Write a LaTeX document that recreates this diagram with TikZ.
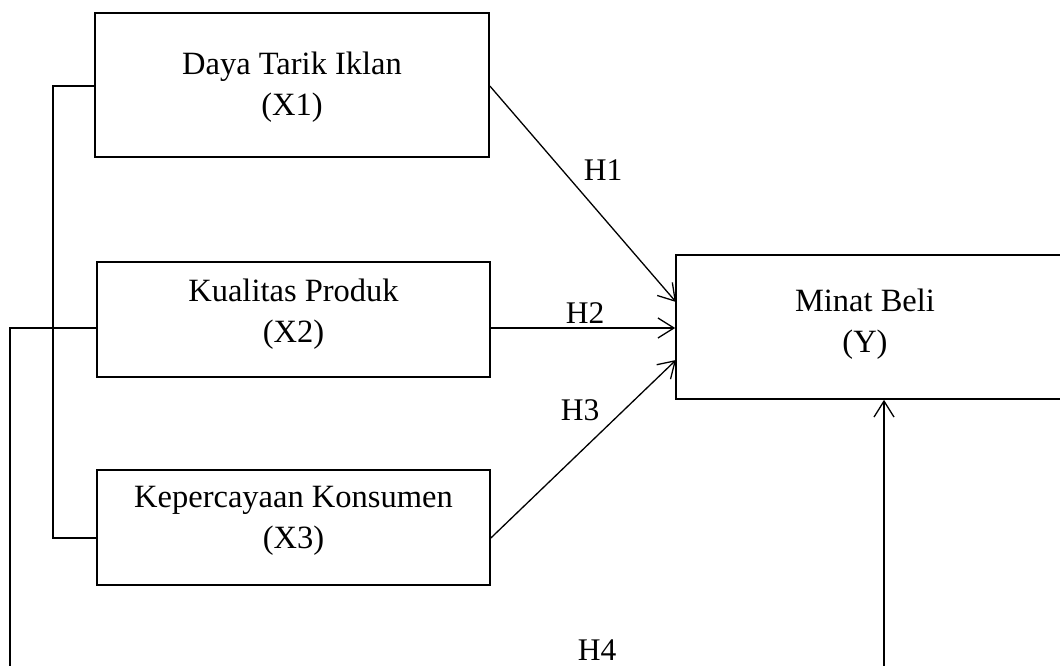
\documentclass[tikz,border=0pt]{standalone}
\usepackage{fontspec}
\setmainfont{Liberation Serif}
\usetikzlibrary{arrows.meta}
\tikzset{
  varbox/.style={draw, line width=1.7pt, rectangle, inner sep=0pt, align=center},
  txt/.style={inner sep=0pt, align=center, font=\fontsize{32.5}{41}\selectfont},
  conn/.style={line width=1.3pt},
  arr/.style={conn, -{Straight Barb[length=16pt,width=20pt,line width=1.3pt]}},
  hlab/.style={inner sep=0pt, font=\fontsize{31.5}{36}\selectfont}
}
\begin{document}
\begin{tikzpicture}[x=1pt,y=-1pt]
\useasboundingbox (0,0) rectangle (1060,666);
\node[varbox, minimum width=394pt, minimum height=144pt] (x1) at (292,85) {};
\node[txt] (x1t) at (292,87) {Daya Tarik Iklan\\(X1)};
\node[varbox, minimum width=393pt, minimum height=115pt] (x2) at (293.5,319.5) {};
\node[txt] (x2t) at (293.5,314) {Kualitas Produk\\(X2)};
\node[varbox, minimum width=393pt, minimum height=115pt] (x3) at (293.5,527.5) {};
\node[txt] (x3t) at (293.5,521) {Kepercayaan Konsumen\\(X3)};
\node[varbox, minimum width=400pt, minimum height=144pt] (y) at (876,327) {};
\node[txt] (yt) at (865,324) {Minat Beli\\(Y)};

\coordinate (b1) at (53,86);
\coordinate (b3) at (53,538);
\coordinate (l2) at (10,328);
\coordinate (l2e) at (10,670);
\coordinate (h4s) at (884,670);

% left bracket lines
\draw[conn] (x1.west |- b1) -- (b1) -- (b3) -- (x3.west |- b3);
\draw[conn] (x2.west |- l2) -- (l2) -- (l2e);

% hypotheses
\draw[arr] (x1.east |- b1) -- (676,302);
\draw[arr] (x2.east |- l2) -- (y.west |- l2);
\draw[arr] (x3.east |- b3) -- (676,360);
\draw[arr] (h4s) -- (y.south -| h4s);

\node[hlab] (h1) at (603,170) {H1};
\node[hlab] (h2) at (585,313) {H2};
\node[hlab] (h3) at (580,410) {H3};
\node[hlab] (h4) at (597,650) {H4};
\end{tikzpicture}
\end{document}
